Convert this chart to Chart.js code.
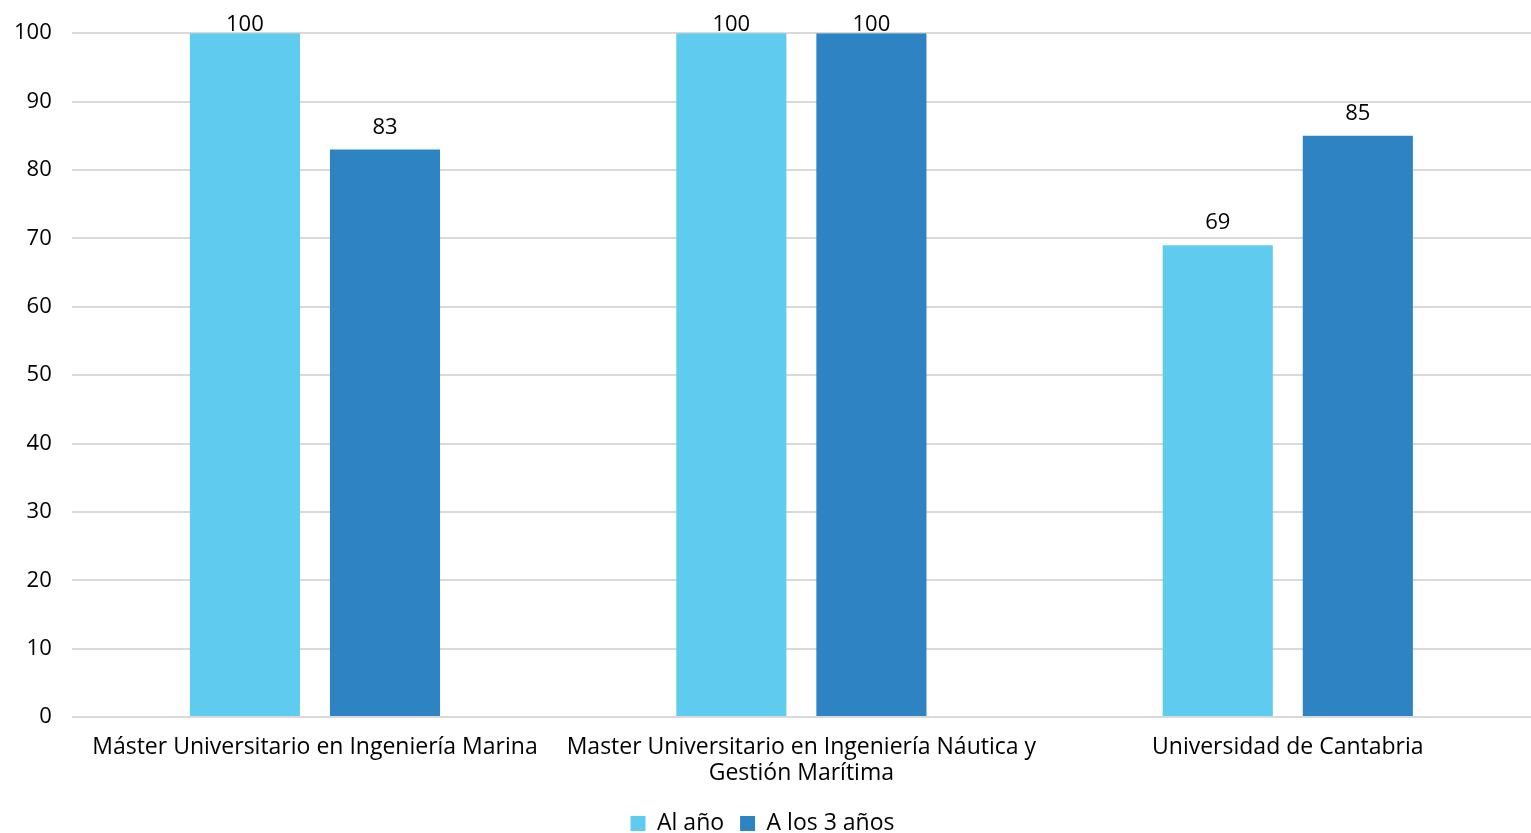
<!DOCTYPE html>
<html>
<head>
<meta charset="utf-8">
<script src="https://cdn.jsdelivr.net/npm/chart.js@4/dist/chart.umd.min.js"></script>
<style>
  body { margin: 0; background: #fff; }
  #wrap { width: 1531px; height: 833px; position: relative; }
</style>
</head>
<body>
<div id="wrap"><canvas id="myChart"></canvas></div>
<script>
const categorias = [
    'Máster Universitario en Ingeniería Marina',
    ['Master Universitario en Ingeniería Náutica y', 'Gestión Marítima'],
    'Universidad de Cantabria'
];
const alAnio = [100, 100, 69];
const aLos3 = [83, 100, 85];
const ticksY = [0, 10, 20, 30, 40, 50, 60, 70, 80, 90, 100];

const fuente = "'Open Sans', 'DejaVu Sans', sans-serif";

// etiquetas encima de cada barra
const etiquetas = {
    id: 'etiquetas',
    afterDatasetsDraw(chart) {
        const ctx = chart.ctx;
        const tope = chart.chartArea.top;
        ctx.save();
        ctx.font = `22px ${fuente}`;
        ctx.fillStyle = '#000';
        ctx.textAlign = 'center';
        ctx.textBaseline = 'bottom';
        chart.data.datasets.forEach((ds, i) => {
            chart.getDatasetMeta(i).data.forEach((bar, j) => {
                const y = bar.y - 11 < tope ? tope + 3 : bar.y - 11;
                ctx.fillText(ds.data[j], bar.x, y);
            });
        });
        ctx.restore();
    }
};

const ctx = document.querySelector('#myChart');
new Chart(ctx, {
    type: 'bar',
    data: {
        labels: categorias,
        datasets: [
            { label: 'Al año', data: alAnio, backgroundColor: '#5ECBEF' },
            { label: 'A los 3 años', data: aLos3, backgroundColor: '#2E84C3' }
        ]
    },
    options: {
        responsive: true,
        maintainAspectRatio: false,
        animation: false,
        layout: { padding: { top: 24, left: -6, right: 0, bottom: -12 } },
        datasets: { bar: { categoryPercentage: 0.576, barPercentage: 0.786 } },
        plugins: {
            legend: {
                position: 'bottom',
                labels: {
                    font: { family: fuente, size: 23 },
                    color: '#000',
                    boxWidth: 15,
                    boxHeight: 15,
                    padding: 16
                }
            },
            tooltip: { enabled: false }
        },
        scales: {
            x: {
                grid: { display: false },
                border: { display: false },
                ticks: {
                    font: { family: fuente, size: 23, lineHeight: 1.15 },
                    color: '#000',
                    maxRotation: 0,
                    autoSkip: false,
                    padding: 9
                }
            },
            y: {
                min: 0,
                max: 100,
                afterBuildTicks: (axis) => { axis.ticks = ticksY.map(v => ({ value: v })); },
                grid: { color: '#D9D9D9', lineWidth: 2, drawTicks: false },
                border: { display: false },
                ticks: {
                    font: { family: fuente, size: 22 },
                    color: '#000',
                    padding: 20
                }
            }
        }
    },
    plugins: [etiquetas]
});
</script>
</body>
</html>
